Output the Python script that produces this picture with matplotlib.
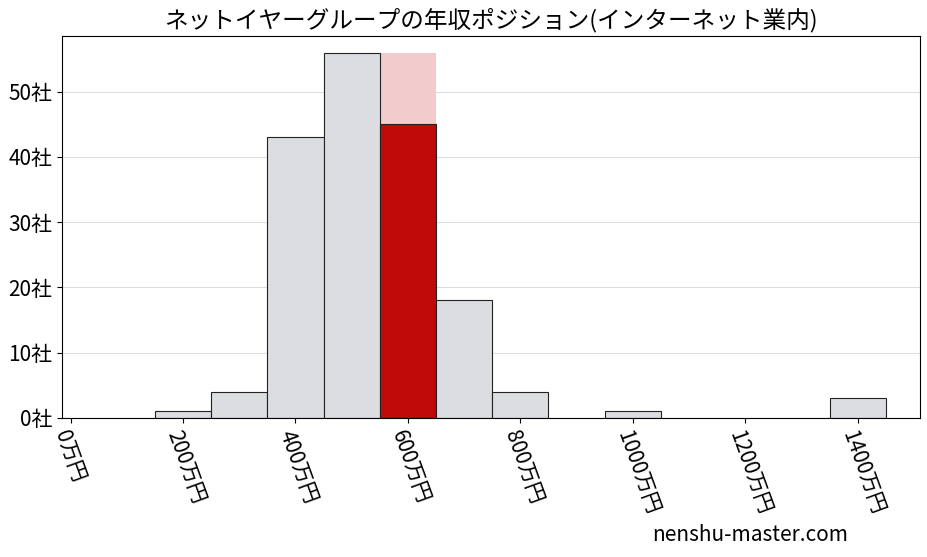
import matplotlib
matplotlib.use('Agg')
import matplotlib.pyplot as plt
import numpy as np

plt.rcParams['font.family'] = ['Noto Sans CJK JP', 'DejaVu Sans']

# bin centres (万円) and company counts
centers = [200, 300, 400, 500, 600, 700, 800, 1000, 1400]
counts = [1, 4, 43, 56, 45, 18, 4, 1, 3]
highlight_center = 600
highlight_bg = 56
xticks = [0, 200, 400, 600, 800, 1000, 1200, 1400]
yticks = [0, 10, 20, 30, 40, 50]

fig, ax = plt.subplots(figsize=(9.27, 5.57), dpi=100)
fig.subplots_adjust(left=0.067, right=0.992, top=0.935, bottom=0.25)

ax.bar(highlight_center, highlight_bg, width=100, color='#f2cccc', zorder=1)
for c, n in zip(centers, counts):
    col = '#c00a0a' if c == highlight_center else '#dcdde0'
    ax.bar(c, n, width=100, color=col, edgecolor='#222222', linewidth=0.8, zorder=2)

ax.set_xlim(-15, 1510)
ax.set_ylim(0, 58.5)
ax.set_xticks(xticks)
ax.set_xticklabels([f'{v}万円' for v in xticks], rotation=-70, ha='left', va='top',
                   rotation_mode='anchor', fontsize=15)
ax.set_yticks(yticks)
ax.set_yticklabels([f'{v}社' for v in yticks], fontsize=15)
ax.yaxis.grid(True, color='#dddddd', linewidth=0.8, zorder=0)
ax.set_axisbelow(True)
ax.set_title('ネットイヤーグループの年収ポジション(インターネット業内)', fontsize=17)
fig.text(0.915, 0.02, 'nenshu-master.com', ha='right', va='bottom', fontsize=15)

fig.savefig('out.png')
